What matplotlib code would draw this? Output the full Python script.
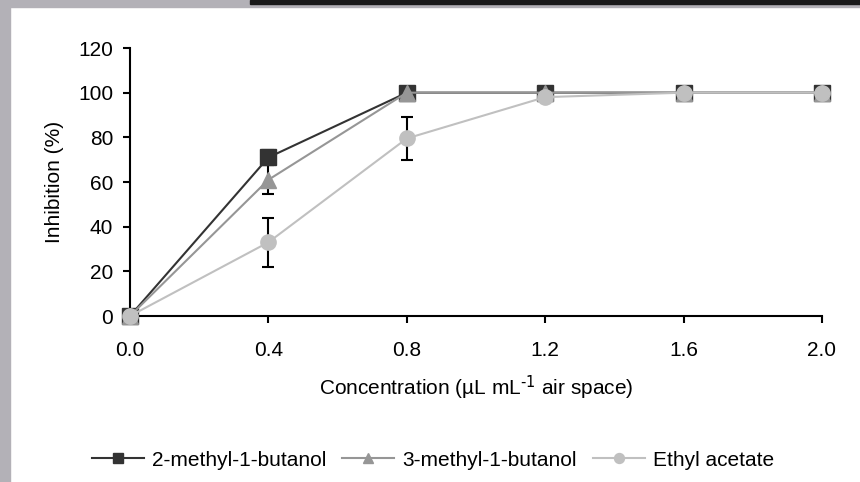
import matplotlib
matplotlib.use("Agg")
import matplotlib.pyplot as plt
from matplotlib.patches import Rectangle

plt.rcParams['font.family'] = ['Liberation Sans', 'DejaVu Sans']
plt.rcParams['mathtext.default'] = 'regular'

# data
conc = [0.0, 0.4, 0.8, 1.2, 1.6, 2.0]
m2_butanol = [0, 71, 100, 100, 100, 100]
m2_err = [0, 3.5, 0, 0, 0, 0]
m3_butanol = [0, 61, 100, 100, 100, 100]
m3_err = [0, 6.5, 0, 0, 0, 0]
ethyl_acetate = [0, 33, 79.5, 98, 100, 100]
ethyl_err = [0, 11, 9.5, 0, 0, 0]

series = [
    ('2-methyl-1-butanol', m2_butanol, m2_err, '#333333', 's', 11),
    ('3-methyl-1-butanol', m3_butanol, m3_err, '#969696', '^', 12),
    ('Ethyl acetate', ethyl_acetate, ethyl_err, '#c0c0c0', 'o', 11),
]

fs = 15

fig = plt.figure(figsize=(8.6, 4.82), dpi=100)

# background frame from the page (left strip, top strip, dark bar)
fig.patches.append(Rectangle((0, 0), 10 / 860, 1, transform=fig.transFigure,
                             color='#b3b1b7', zorder=0))
fig.patches.append(Rectangle((0, 1 - 7 / 482), 1, 7 / 482, transform=fig.transFigure,
                             color='#b3b1b7', zorder=0))
fig.patches.append(Rectangle((250 / 860, 1 - 4 / 482), 610 / 860, 4 / 482,
                             transform=fig.transFigure, color='#1a1a1a', zorder=1))

ax = fig.add_axes([130 / 860, 1 - 316 / 482, 692 / 860, 268 / 482])
ax.patch.set_alpha(0)

for i, (name, vals, err, col, mk, ms) in enumerate(series):
    ax.errorbar(conc, vals, yerr=err, fmt='none', ecolor='black', elinewidth=1.5,
                capsize=4.5, capthick=1.5, zorder=2, clip_on=False)
    ax.plot(conc, vals, color=col, lw=1.5, marker=mk, markersize=ms,
            markerfacecolor=col, markeredgecolor=col, label=name,
            zorder=3 + i, clip_on=False)

ax.set_xlim(0, 2.0)
ax.set_ylim(0, 120)
ax.set_xticks(conc)
ax.set_xticklabels(['%.1f' % c for c in conc])
ax.set_yticks(range(0, 121, 20))

for s in ['top', 'right']:
    ax.spines[s].set_visible(False)
for s in ['left', 'bottom']:
    ax.spines[s].set_linewidth(1.5)
ax.tick_params(axis='both', direction='out', length=5, width=1.5, labelsize=fs)
ax.tick_params(axis='y', pad=7)
ax.tick_params(axis='x', pad=13)

ax.set_xlabel(r'Concentration (µL mL$^{\text{-1}}$ air space)', fontsize=fs, labelpad=10)
ax.set_ylabel('Inhibition (%)', fontsize=fs, labelpad=10)

fig.legend(loc='center', bbox_to_anchor=(433 / 860, 1 - 460 / 482), ncol=3,
           frameon=False, fontsize=fs, handlelength=2.5, markerscale=0.65,
           columnspacing=0.75, handletextpad=0.4)

fig.savefig('out.png', dpi=100, facecolor='white')
